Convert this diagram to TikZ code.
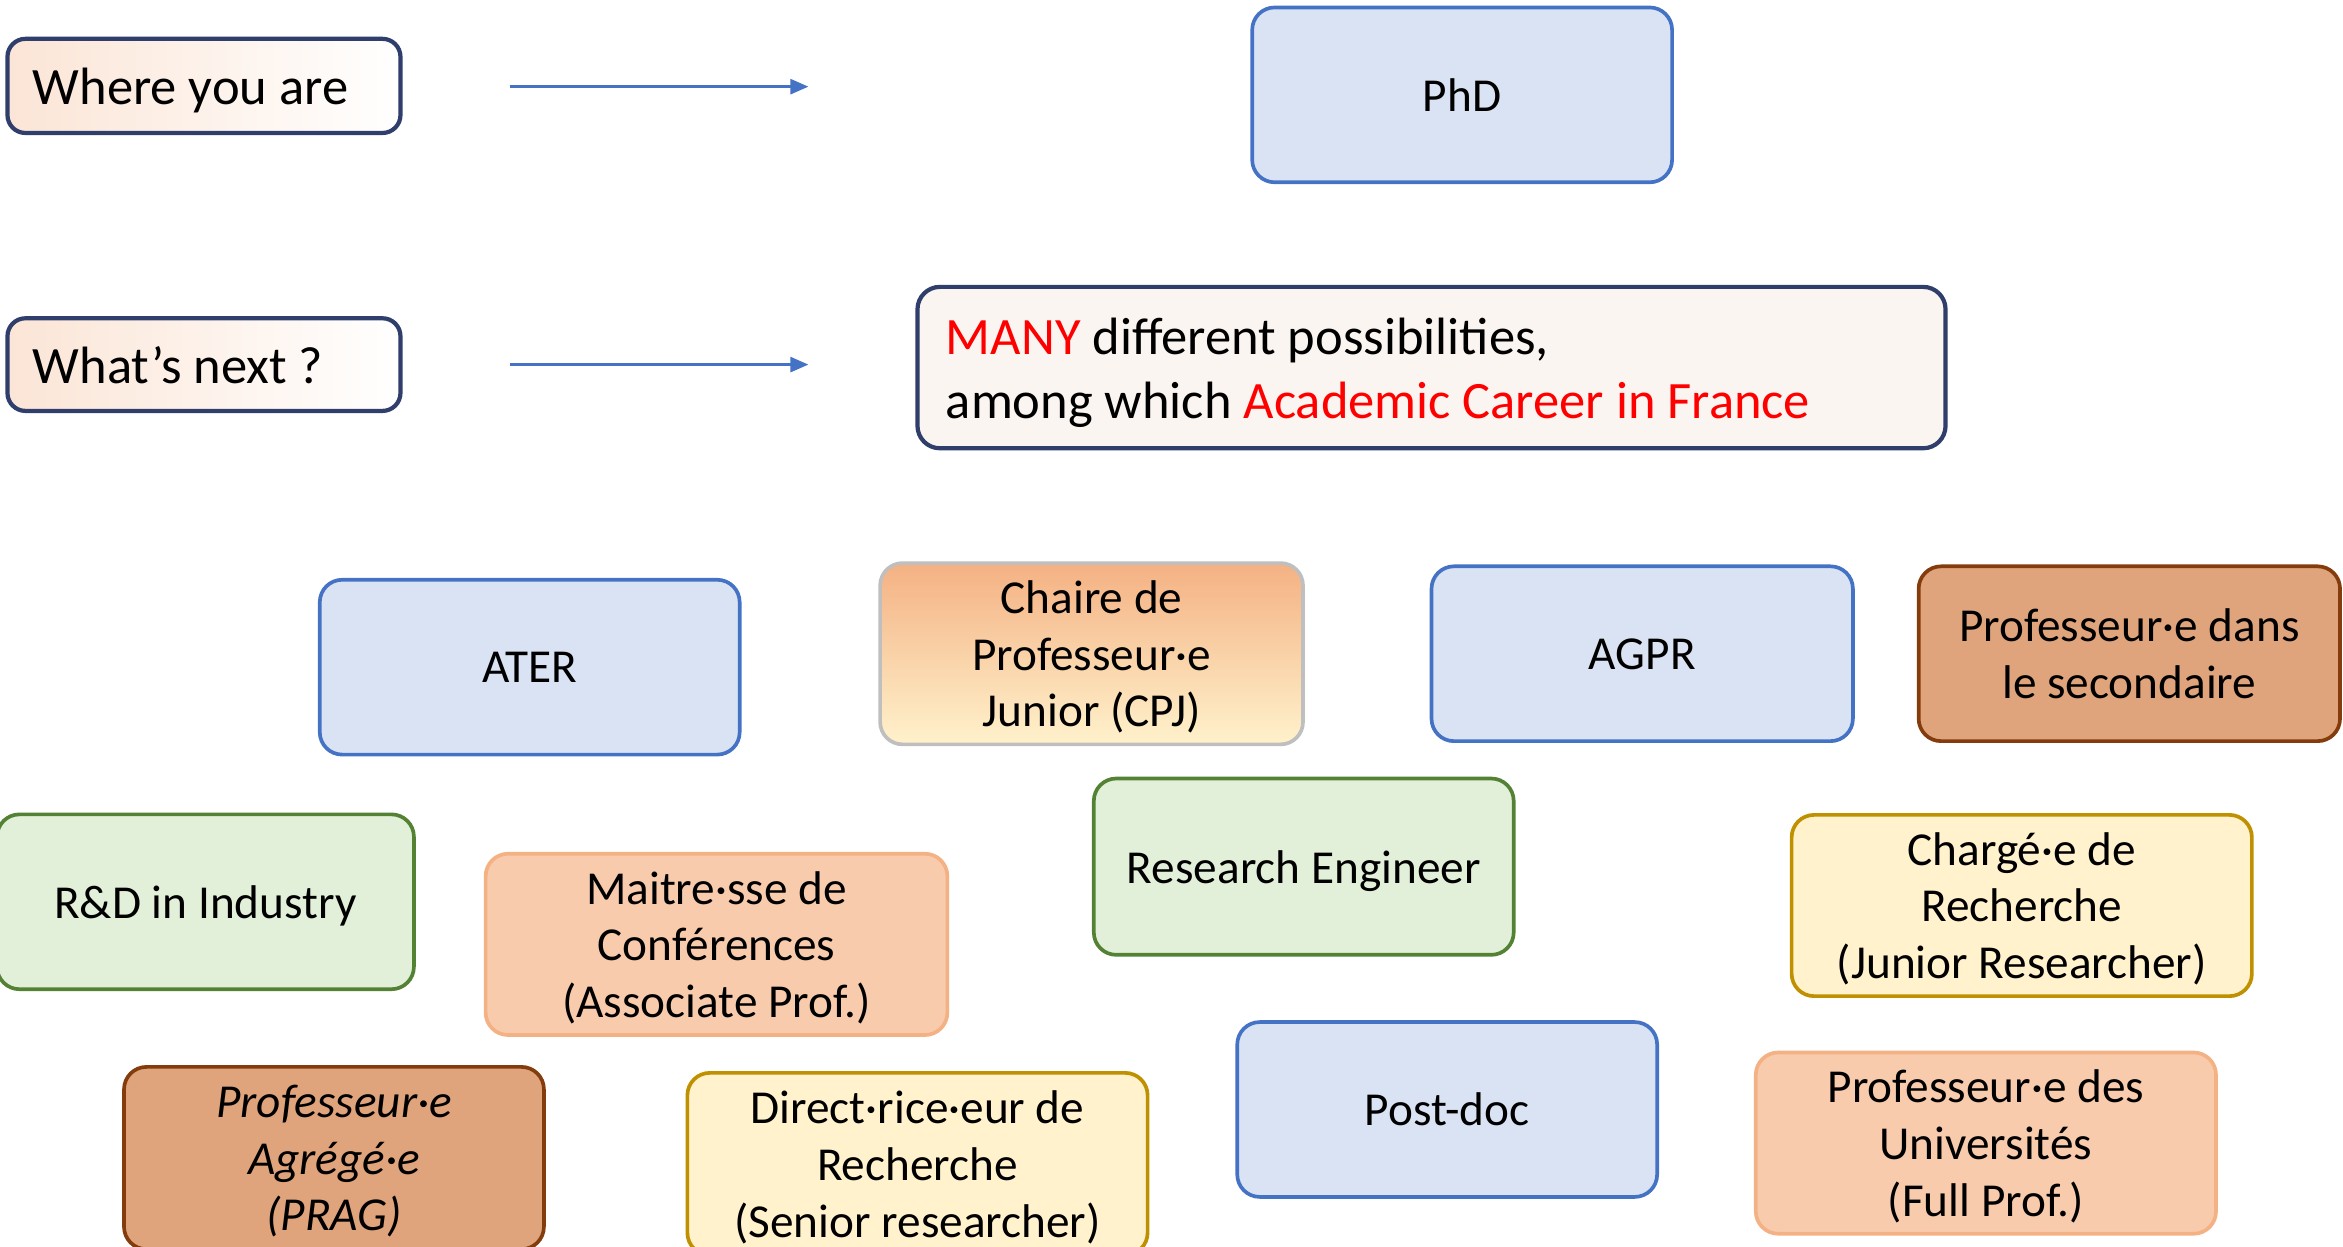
\documentclass[tikz,border=0pt]{standalone}
\usepackage{fontspec}
\usepackage{xcolor}
\setmainfont{Carlito}
\usetikzlibrary{arrows.meta}

\definecolor{navy}{RGB}{47,62,107}
\definecolor{bluefill}{RGB}{218,227,243}
\definecolor{blueline}{RGB}{68,114,196}
\definecolor{greenfill}{RGB}{226,240,217}
\definecolor{greenline}{RGB}{84,130,53}
\definecolor{peachfill}{RGB}{248,203,173}
\definecolor{peachline}{RGB}{244,177,131}
\definecolor{yellowfill}{RGB}{255,242,204}
\definecolor{yellowline}{RGB}{191,144,0}
\definecolor{brownfill}{RGB}{223,164,124}
\definecolor{brownline}{RGB}{132,60,12}
\definecolor{peachlt}{RGB}{251,229,214}
\definecolor{manyfill}{RGB}{251,245,241}
\definecolor{cpjtop}{RGB}{244,177,131}
\definecolor{grayline}{RGB}{191,191,191}

\begin{document}
\begin{tikzpicture}[
	box/.style={rounded corners=0.15cm, line width=0.7pt, align=center, text depth=0pt, font=\fontsize{9}{10.8}\selectfont},
	bluebox/.style={box, draw=blueline, fill=bluefill},
	greenbox/.style={box, draw=greenline, fill=greenfill},
	peachbox/.style={box, draw=peachline, fill=peachfill},
	yellowbox/.style={box, draw=yellowline, fill=yellowfill},
	brownbox/.style={box, draw=brownline, fill=brownfill},
	askbox/.style={rounded corners=0.12cm, line width=0.8pt, draw=navy, left color=peachlt, right color=white, inner xsep=0.17cm, text width=2.29cm, align=flush left, text depth=0pt, font=\fontsize{10}{12.2}\selectfont},
	arr/.style={draw=blueline, line width=0.5pt, -{Triangle[length=0.12cm, width=0.1cm]}}
]
	\useasboundingbox (0,0) rectangle (15.68,8.34);

	\node[askbox, minimum height=0.63cm] (where) at (1.365,7.765) {Where you are};
	\node[askbox, minimum height=0.62cm] (next) at (1.365,5.90) {What’s next ?};

	\coordinate (w1) at (3.41,7.76);
	\coordinate (w2) at (5.41,7.76);
	\coordinate (n1) at (3.41,5.90);
	\coordinate (n2) at (5.41,5.90);
	\draw[arr] (w1) -- (w2);
	\draw[arr] (n1) -- (n2);

	\node[bluebox, minimum width=2.81cm, minimum height=1.17cm] (phd) at (9.785,7.705) {PhD};
	\node[rounded corners=0.15cm, line width=0.8pt, draw=navy, fill=manyfill, minimum width=6.88cm, minimum height=1.08cm, inner xsep=0.19cm, text width=6.5cm, align=flush left, text depth=12pt, font=\fontsize{10}{12.2}\selectfont] (many) at (9.58,5.88) {\textcolor{red}{MANY} different possibilities,\\among which \textcolor{red}{Academic Career in France}};

	\node[bluebox, minimum width=2.81cm, minimum height=1.17cm] (ater) at (3.545,3.875) {ATER};
	\node[box, draw=grayline, top color=cpjtop, bottom color=yellowfill, minimum width=2.83cm, minimum height=1.17cm] (cpj) at (7.305,3.965) {Chaire de\\Professeur·e\\Junior (CPJ)};
	\node[bluebox, minimum width=2.82cm, minimum height=1.17cm] (agpr) at (10.99,3.965) {AGPR};
	\node[brownbox, minimum width=2.82cm, minimum height=1.17cm] (second) at (14.25,3.965) {Professeur·e dans\\le secondaire};

	\node[greenbox, minimum width=2.79cm, minimum height=1.17cm] (rd) at (1.375,2.305) {R\&D in Industry};
	\node[peachbox, minimum width=3.09cm, minimum height=1.18cm] (mcf) at (4.795,2.02) {Maitre·sse de\\Conférences\\(Associate Prof.)};
	\node[greenbox, minimum width=2.81cm, minimum height=1.18cm] (re) at (8.725,2.54) {Research Engineer};
	\node[yellowbox, minimum width=3.08cm, minimum height=1.18cm] (cr) at (13.53,2.28) {Chargé·e de\\Recherche\\(Junior Researcher)};

	\node[brownbox, minimum width=2.81cm, minimum height=1.22cm, font=\fontsize{9}{10.8}\selectfont\itshape] (prag) at (2.235,0.59) {Professeur·e\\Agrégé·e\\(PRAG)};
	\node[yellowbox, minimum width=3.08cm, minimum height=1.22cm] (dr) at (6.14,0.55) {Direct·rice·eur de\\Recherche\\(Senior researcher)};
	\node[bluebox, minimum width=2.81cm, minimum height=1.17cm] (postdoc) at (9.685,0.915) {Post-doc};
	\node[peachbox, minimum width=3.08cm, minimum height=1.18cm] (pu) at (13.29,0.69) {Professeur·e des\\Universités\\(Full Prof.)};
\end{tikzpicture}
\end{document}
